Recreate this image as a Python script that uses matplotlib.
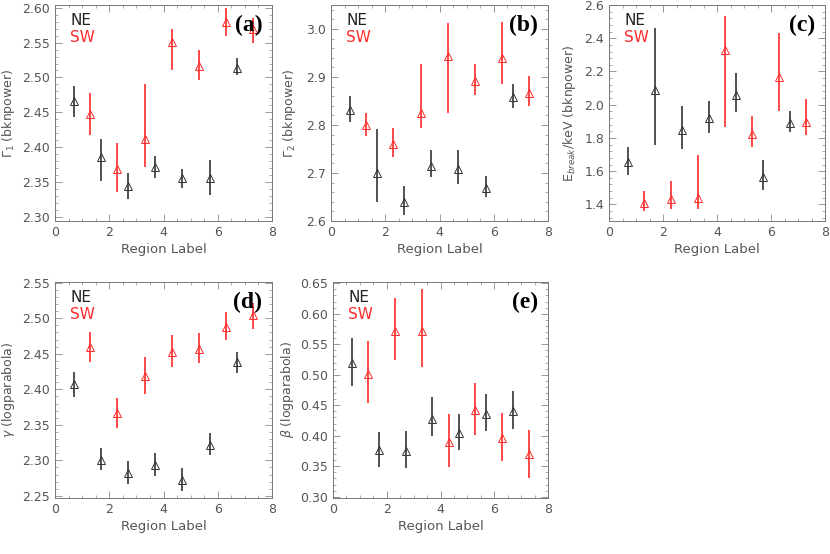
#!/usr/bin/env python3
"""Spectral parameters vs region label, NE and SW rims (5 panels)."""

import numpy as np
import matplotlib
matplotlib.use("Agg")
import matplotlib.pyplot as plt
from matplotlib.ticker import MultipleLocator, AutoMinorLocator, FormatStrFormatter

# region positions (NE shifted left, SW shifted right)
ne_x = [0.7, 1.7, 2.7, 3.7, 4.7, 5.7, 6.7]
sw_x = [1.3, 2.3, 3.3, 4.3, 5.3, 6.3, 7.3]

# (a) Gamma_1 (bknpower): value, lower, upper
g1_ne = [2.466, 2.386, 2.344, 2.371, 2.355, 2.355, 2.514]
g1_ne_lo = [2.443, 2.352, 2.326, 2.356, 2.341, 2.331, 2.503]
g1_ne_hi = [2.488, 2.411, 2.363, 2.388, 2.369, 2.382, 2.528]
g1_sw = [2.447, 2.369, 2.411, 2.551, 2.517, 2.580, 2.570]
g1_sw_lo = [2.417, 2.335, 2.371, 2.511, 2.497, 2.559, 2.550]
g1_sw_hi = [2.478, 2.406, 2.491, 2.569, 2.539, 2.600, 2.585]

# (b) Gamma_2 (bknpower)
g2_ne = [2.831, 2.701, 2.639, 2.715, 2.708, 2.669, 2.859]
g2_ne_lo = [2.806, 2.640, 2.613, 2.691, 2.678, 2.651, 2.836]
g2_ne_hi = [2.861, 2.791, 2.672, 2.747, 2.747, 2.694, 2.885]
g2_sw = [2.799, 2.760, 2.826, 2.944, 2.892, 2.939, 2.866]
g2_sw_lo = [2.777, 2.734, 2.794, 2.824, 2.863, 2.885, 2.840]
g2_sw_hi = [2.826, 2.793, 2.927, 3.012, 2.928, 3.015, 2.902]

# (c) E_break / keV (bknpower)
eb_ne = [1.654, 2.090, 1.848, 1.920, 2.060, 1.564, 1.888]
eb_ne_lo = [1.574, 1.760, 1.734, 1.828, 1.958, 1.488, 1.834]
eb_ne_hi = [1.744, 2.464, 1.994, 2.024, 2.190, 1.670, 1.960]
eb_sw = [1.408, 1.434, 1.438, 2.328, 1.824, 2.164, 1.898]
eb_sw_lo = [1.358, 1.374, 1.370, 1.864, 1.748, 1.960, 1.818]
eb_sw_hi = [1.480, 1.538, 1.698, 2.534, 1.930, 2.430, 2.034]

# (d) gamma (logparabola)
ga_ne = [2.407, 2.301, 2.282, 2.293, 2.272, 2.322, 2.439]
ga_ne_lo = [2.389, 2.287, 2.267, 2.278, 2.257, 2.307, 2.423]
ga_ne_hi = [2.425, 2.318, 2.299, 2.311, 2.289, 2.339, 2.453]
ga_sw = [2.459, 2.367, 2.418, 2.453, 2.457, 2.488, 2.505]
ga_sw_lo = [2.439, 2.345, 2.393, 2.432, 2.437, 2.469, 2.485]
ga_sw_hi = [2.480, 2.388, 2.445, 2.477, 2.479, 2.509, 2.521]

# (e) beta (logparabola)
be_ne = [0.520, 0.376, 0.375, 0.428, 0.404, 0.436, 0.441]
be_ne_lo = [0.482, 0.349, 0.347, 0.399, 0.376, 0.408, 0.411]
be_ne_hi = [0.561, 0.406, 0.407, 0.463, 0.436, 0.469, 0.474]
be_sw = [0.501, 0.572, 0.572, 0.390, 0.443, 0.397, 0.370]
be_sw_lo = [0.453, 0.524, 0.513, 0.348, 0.402, 0.358, 0.331]
be_sw_hi = [0.555, 0.626, 0.641, 0.435, 0.486, 0.437, 0.410]

NE_COLOR = "#333333"
SW_COLOR = "#ff2a2a"
TXT = "#555555"

W, H = 830, 554
fig = plt.figure(figsize=(W / 100, H / 100), dpi=100)


def add_panel(left, right, top, bottom):
    # pixel box -> figure fraction
    return fig.add_axes([left / W, 1 - bottom / H, (right - left) / W, (bottom - top) / H])


def draw_series(ax, x, y, lo, hi, color):
    y = np.asarray(y)
    yerr = [y - np.asarray(lo), np.asarray(hi) - y]
    ax.errorbar(x, y, yerr=yerr, fmt="none", ecolor=color, elinewidth=1.2, capsize=0)
    ax.plot(x, y, linestyle="none", marker="^", markersize=6, markerfacecolor="none",
            markeredgecolor=color, markeredgewidth=0.7)


def style_axes(ax, ylim, major, fmt, ylabel, label_x, tag):
    ax.set_xlim(0, 8)
    ax.set_ylim(*ylim)
    ax.xaxis.set_major_locator(MultipleLocator(2))
    ax.xaxis.set_minor_locator(MultipleLocator(0.5))
    ax.yaxis.set_major_locator(MultipleLocator(major))
    ax.yaxis.set_minor_locator(AutoMinorLocator(5))
    ax.yaxis.set_major_formatter(FormatStrFormatter(fmt))
    ax.tick_params(which="both", direction="in", top=True, right=True,
                   colors="#888888", labelcolor=TXT, labelsize=9)
    ax.tick_params(which="major", length=5, width=0.6)
    ax.tick_params(which="minor", length=2.5, width=0.5)
    for s in ax.spines.values():
        s.set_color("#777777")
        s.set_linewidth(0.7)
    ax.set_xlabel("Region Label", color=TXT, fontsize=9.5, labelpad=3)
    ax.set_ylabel(ylabel, color=TXT, fontsize=9)
    ax.yaxis.set_label_coords(label_x, 0.5)
    ax.text(0.07, 0.93, "NE", transform=ax.transAxes, color="#222222", fontsize=11,
            va="center", ha="left")
    ax.text(0.07, 0.85, "SW", transform=ax.transAxes, color=SW_COLOR, fontsize=11,
            va="center", ha="left")
    ax.text(0.955, 0.905, tag, transform=ax.transAxes, color="black", fontsize=17,
            fontweight="bold", family="Liberation Serif", va="center", ha="right", zorder=10)


ax = add_panel(55, 272, 5, 221)
draw_series(ax, ne_x, g1_ne, g1_ne_lo, g1_ne_hi, NE_COLOR)
draw_series(ax, sw_x, g1_sw, g1_sw_lo, g1_sw_hi, SW_COLOR)
style_axes(ax, (2.294, 2.604), 0.05, "%.2f", r"$\Gamma_1$ (bknpower)", -0.175, "(a)")

ax = add_panel(331, 548, 5, 221)
draw_series(ax, ne_x, g2_ne, g2_ne_lo, g2_ne_hi, NE_COLOR)
draw_series(ax, sw_x, g2_sw, g2_sw_lo, g2_sw_hi, SW_COLOR)
style_axes(ax, (2.6, 3.05), 0.1, "%.1f", r"$\Gamma_2$ (bknpower)", -0.15, "(b)")

ax = add_panel(609, 825, 5, 221)
draw_series(ax, ne_x, eb_ne, eb_ne_lo, eb_ne_hi, NE_COLOR)
draw_series(ax, sw_x, eb_sw, eb_sw_lo, eb_sw_hi, SW_COLOR)
style_axes(ax, (1.3, 2.6), 0.2, "%.1f", r"E$_{break}$/keV (bknpower)", -0.143, "(c)")

ax = add_panel(55, 272, 282, 498)
draw_series(ax, ne_x, ga_ne, ga_ne_lo, ga_ne_hi, NE_COLOR)
draw_series(ax, sw_x, ga_sw, ga_sw_lo, ga_sw_hi, SW_COLOR)
style_axes(ax, (2.247, 2.551), 0.05, "%.2f", r"$\gamma$ (logparabola)", -0.175, "(d)")

ax = add_panel(333, 548, 282, 498)
draw_series(ax, ne_x, be_ne, be_ne_lo, be_ne_hi, NE_COLOR)
draw_series(ax, sw_x, be_sw, be_sw_lo, be_sw_hi, SW_COLOR)
style_axes(ax, (0.298, 0.652), 0.05, "%.2f", r"$\beta$ (logparabola)", -0.17, "(e)")

fig.savefig("out.png", dpi=100)
